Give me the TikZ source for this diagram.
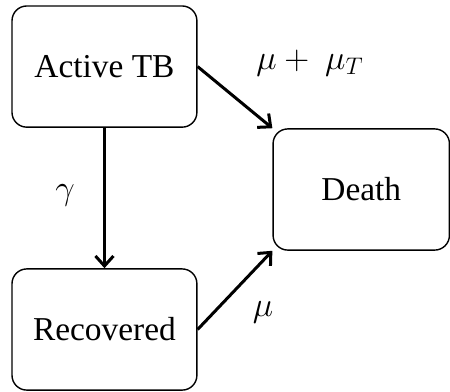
\documentclass[tikz,border=0pt]{standalone}
\usepackage{fontspec}
\setmainfont{Liberation Serif}
\usetikzlibrary{arrows.meta}

\begin{document}
\begin{tikzpicture}[font=\fontsize{16.7}{20}\selectfont]
      \useasboundingbox (0,0) rectangle (7.91,6.89);
      \tikzstyle {compartment} = [shape=rectangle, draw=black, line width=0.7pt, rounded corners=0.26cm, minimum width=3.25cm, minimum height=2.13cm, inner sep=0pt];
      \tikzstyle {flow} = [line width=1.5pt, -{Straight Barb[length=5pt,width=9pt,line width=1.5pt]}];
      \node (ac) [compartment] at (1.836,5.720) {Active TB};
      \node (rc) [compartment] at (1.836,1.098) {Recovered};
      \node (de) [compartment, minimum width=3.1cm] at (6.35,3.559) {Death};
      \node (lacde) at (5.448,5.782) {$\mu +\ \mu_T$};
      \node (lacrc) at (1.142,3.462) {$\gamma$};
      \node (lrcde) at (4.622,1.406) {$\mu$};
      \draw [flow] (ac.south) -- (rc.north);
      \draw [flow] (ac.east) -- (de.north west);
      \draw [flow] (rc.east) -- (de.south west);
    \end{tikzpicture}
\end{document}
